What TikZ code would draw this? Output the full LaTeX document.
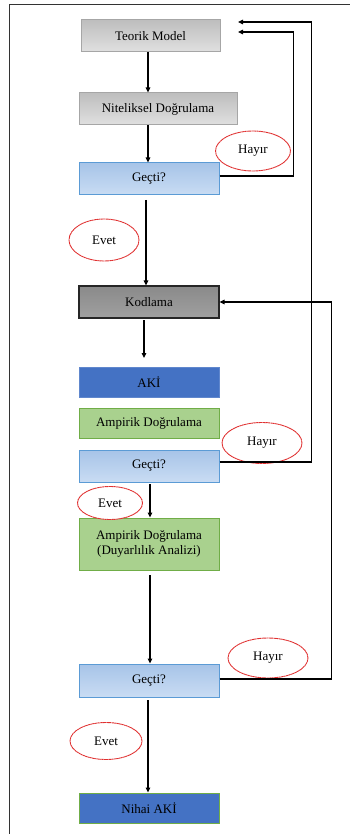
\documentclass[tikz,border=0pt]{standalone}
\usepackage{fontspec}
\setmainfont{Liberation Serif}
\usetikzlibrary{arrows.meta,shapes.geometric}
\definecolor{grayfill}{HTML}{D3D3D3}
\definecolor{grayedge}{HTML}{A6A6A6}
\definecolor{lbtop}{HTML}{A7C4E8}
\definecolor{lbbot}{HTML}{C9DCF3}
\definecolor{lbedge}{HTML}{5B9BD5}
\definecolor{dktop}{HTML}{8A8A8A}
\definecolor{dkbot}{HTML}{A0A0A0}
\definecolor{akiblue}{HTML}{4472C4}
\definecolor{grfill}{HTML}{A9D18E}
\definecolor{gredge}{HTML}{70AD47}
\definecolor{ellred}{HTML}{E03030}
\tikzset{
  x=1pt, y=-1pt,
  txt/.style={font=\fontsize{13}{15}\selectfont, text=black, align=center, inner sep=0pt},
  box/.style={txt, rectangle, minimum width=140pt, minimum height=32pt},
  graybox/.style={box, top color=grayfill!90!black, bottom color=grayfill!70!white, draw=grayedge, line width=1pt},
  bluebox/.style={box, top color=lbtop, bottom color=lbbot, draw=lbedge, line width=1pt},
  darkbox/.style={box, top color=dktop, bottom color=dkbot, draw=black!85, line width=1.2pt},
  akibox/.style={box, minimum height=30pt, fill=akiblue, draw=akiblue!85!white, line width=1pt},
  greenbox/.style={box, minimum height=30pt, fill=grfill, draw=gredge, line width=1pt},
  lbl/.style={txt, ellipse, draw=ellred, dash pattern=on 2pt off 0.4pt, line width=0.9pt, fill=white},
  arr/.style={line width=1.2pt, black, -{Triangle[length=5pt,width=4.5pt]}},
  fb/.style={line width=1.2pt, black, -{Triangle[length=5pt,width=4.5pt]}},
}
\begin{document}
\begin{tikzpicture}
\useasboundingbox (0,0) rectangle (350,834);
% frame (cut off at right and bottom)
\draw[line width=1pt, black!80] (9,834) -- (9,5) -- (350,5);

% nodes
\node[graybox, minimum width=139pt] (T) at (150.5,36) {Teorik Model};
\node[graybox, minimum width=158pt] (N) at (158,109) {Niteliksel Doğrulama};
\node[bluebox] (G1) at (149,179) {Geçti?};
\node[darkbox] (K) at (149,302) {Kodlama};
\node[akibox] (A) at (149,382) {AKİ};
\node[greenbox] (E1) at (149,423) {Ampirik Doğrulama};
\node[bluebox] (G2) at (149,466) {Geçti?};
\node[greenbox, minimum height=52pt] (E2) at (149,544) {Ampirik Doğrulama\\(Duyarlılık Analizi)};
\node[bluebox, minimum height=33pt] (G3) at (149,680.5) {Geçti?};
\node[akibox, draw=gredge] (F) at (149,808) {Nihai AKİ};

% labels
\node[lbl, minimum width=75pt, minimum height=40pt] (H1) at (253,151) {Hayır};
\node[lbl, minimum width=70pt, minimum height=42pt] (V1) at (104,240) {Evet};
\node[lbl, minimum width=80pt, minimum height=41pt] (H2) at (262,443) {Hayır};
\node[lbl, minimum width=65pt, minimum height=33pt] (V2) at (110,503) {Evet};
\node[lbl, minimum width=80pt, minimum height=40pt] (H3) at (268,658) {Hayır};
\node[lbl, minimum width=72pt, minimum height=37pt] (V3) at (106,741) {Evet};

% free ends
\coordinate (g1s) at (146,200);
\coordinate (ks) at (144,320);
\coordinate (ae) at (144,358);
\coordinate (g2s) at (150,484);
\coordinate (e2s) at (150,575);
\coordinate (g3s) at (148,700);
\coordinate (t1) at (238,32);
\coordinate (t2) at (238,22);

% main flow
\draw[arr] ([xshift=-2.5pt]T.south) -- ([xshift=-2.5pt]T.south |- N.north);
\draw[arr] ([xshift=-10pt]N.south) -- ([xshift=-10pt]N.south |- G1.north);
\draw[arr] (g1s) -- (g1s |- K.north);
\draw[arr] (ks) -- (ae);
\draw[arr] (g2s) -- (g2s |- E2.north);
\draw[arr] (e2s) -- (e2s |- G3.north);
\draw[arr] (g3s) -- (g3s |- F.north);

% feedback loops
\draw[fb] ([yshift=3pt]G1.east) -- ++(74,0) |- (t1);
\draw[fb] ([yshift=4pt]G2.east) -- ++(92,0) |- (t2);
\draw[fb] ([yshift=1.5pt]G3.east) -- ++(112,0) |- (K.east);
\end{tikzpicture}
\end{document}
